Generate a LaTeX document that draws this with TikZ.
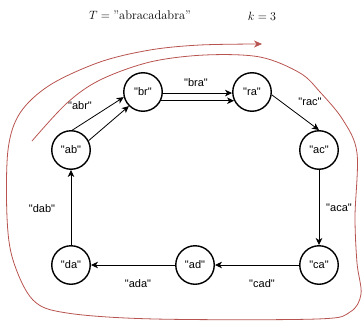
\documentclass[tikz,border=0pt]{standalone}
\usepackage{fontspec}
\newfontfamily\lblfont{Liberation Sans}
\usetikzlibrary{arrows.meta}
\definecolor{walkred}{RGB}{184,84,80}
\begin{document}
\begin{tikzpicture}[x=1pt,y=-1pt,
  state/.style={circle,draw,line width=1.4pt,minimum size=38.5pt,inner sep=0pt,
    font=\lblfont\fontsize{11}{13}\selectfont},
  trans/.style={draw,line width=0.8pt,-{Stealth[length=7pt,width=6.5pt,inset=2pt]}},
  lbl/.style={font=\lblfont\fontsize{11}{13}\selectfont},
  walk/.style={draw=walkred,line width=0.8pt,-{Stealth[length=8pt,width=7pt,inset=2.5pt]}}]
\useasboundingbox (0,0) rectangle (363,321);

% heading
\node (title) at (140,15) {\fontsize{12.5}{15}\selectfont $T = {}$''abracadabra''};
\node (kval) at (262,16) {\fontsize{12.5}{15}\selectfont $k = 3$};

% de Bruijn graph nodes
\node[state] (ab) at (71,150) {"ab"};
\node[state] (br) at (143,92) {"br"};
\node[state] (ra) at (252,92) {"ra"};
\node[state] (ac) at (319,150) {"ac"};
\node[state] (ca) at (319,265) {"ca"};
\node[state] (ad) at (195,265) {"ad"};
\node[state] (da) at (71,265) {"da"};

% edges (one per 3-mer)
\draw[trans] (ab.86) -- (br.195);
\draw[trans] (ab.28) -- (br.225);
\draw[trans] (br.-3) -- (ra.183);
\draw[trans] (br.-26) -- (ra.206);
\draw[trans] (ra.-8) -- (ac.north);
\draw[trans] (ac.south) -- (ca.north);
\draw[trans] (ca.west) -- (ad.east);
\draw[trans] (ad.west) -- (da.east);
\draw[trans] (da.north) -- (ab.south);

% edge labels
\node[lbl] (l-abr) at (80,106) {"abr"};
\node[lbl] (l-bra) at (196,83) {"bra"};
\node[lbl] (l-rac) at (310,102) {"rac"};
\node[lbl] (l-aca) at (339,208) {"aca"};
\node[lbl] (l-cad) at (262,284) {"cad"};
\node[lbl] (l-ada) at (138,284) {"ada"};
\node[lbl] (l-dab) at (42,209) {"dab"};

% Eulerian walk around the graph
\draw[walk] plot[smooth,tension=0.55] coordinates {
  (32,141) (67,103) (100,80) (150,62) (205,55) (260,57) (300,73) (320,92)
  (343,120) (357,153) (355,217) (357,263) (361,294) (350,312) (317,319)
  (155,319) (67,313) (33,300) (13,260) (7,217) (8,150) (20,113) (50,85)
  (100,62) (150,50) (200,45) (262,44)};
\end{tikzpicture}
\end{document}
